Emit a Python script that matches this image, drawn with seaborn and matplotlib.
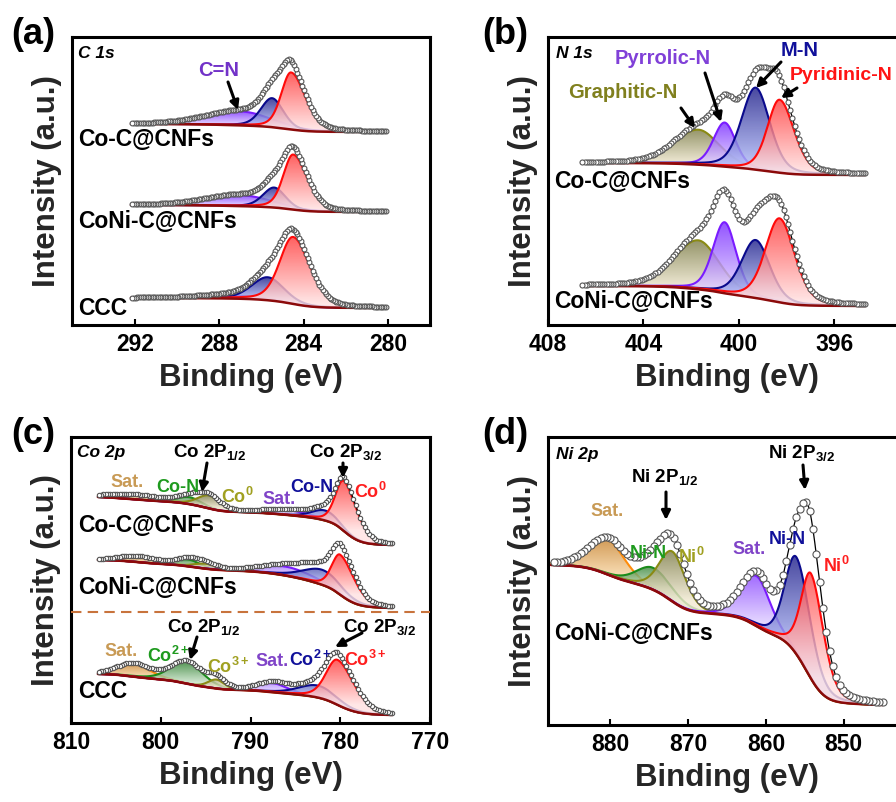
import numpy as np
import matplotlib
matplotlib.use("Agg")
import matplotlib.pyplot as plt
from matplotlib.colors import LinearSegmentedColormap
from matplotlib.patches import Polygon, FancyArrowPatch
import seaborn as sns

# ------------------------------------------------------------------
# Fitted XPS components: (name, centre eV, height, HWHM high-BE side, HWHM low-BE side)
# Intensities are in arbitrary units; each spectrum carries its own vertical offset
# through the background level at its low-binding-energy end.
# ------------------------------------------------------------------
C1S_RANGE = (280.1, 292.2)
C1S_SAMPLES = ["Co-C@CNFs", "CoNi-C@CNFs", "CCC"]
C1S_BASE = [193, 113, 17]
C1S_STEP = [8, 7, 10]
C1S_COC = [("C=N", 287.0, 14, 2.0, 1.7), ("C-N", 285.5, 29, 0.63, 0.63), ("C-C", 284.6, 57, 0.55, 0.8)]
C1S_CONI = [("C=N", 287.0, 11, 2.0, 1.7), ("C-N", 285.4, 20, 0.63, 0.63), ("C-C", 284.5, 55, 0.55, 0.8)]
C1S_CCC = [("C=N", 287.5, 3, 1.8, 1.8), ("C-N", 285.7, 23, 0.9, 0.9), ("C-C", 284.5, 67, 0.75, 0.95)]

N1S_RANGE = (394.7, 406.6)
N1S_SAMPLES = ["Co-C@CNFs", "CoNi-C@CNFs"]
N1S_BASE = [150, 19]
N1S_STEP = [12, 20]
N1S_COC = [("Graphitic-N", 401.7, 35, 1.2, 1.05), ("Pyrrolic-N", 400.6, 44, 0.55, 0.55),
           ("M-N", 399.3, 82, 0.7, 0.7), ("Pyridinic-N", 398.3, 73, 0.6, 0.72)]
N1S_CONI = [("Graphitic-N", 401.7, 49, 1.2, 1.05), ("Pyrrolic-N", 400.6, 71, 0.58, 0.58),
            ("M-N", 399.3, 58, 0.7, 0.7), ("Pyridinic-N", 398.3, 84, 0.7, 0.75)]

CO2P_RANGE = (774.2, 807.0)
CO2P_SAMPLES = ["Co-C@CNFs", "CoNi-C@CNFs", "CCC"]
CO2P_BASE = [178, 115, 8]
CO2P_STEP = [48, 48, 41]
CO2P_COC = [("Sat-1/2", 803.0, 5, 3.5, 3.5), ("CoN-1/2", 796.8, 7, 1.6, 1.6), ("Co0-1/2", 794.6, 13, 1.5, 1.5),
            ("Sat-3/2", 786.0, 5, 3.0, 3.0), ("CoN-3/2", 781.7, 10, 1.7, 1.7), ("Co0-3/2", 779.6, 50, 1.1, 1.7)]
CO2P_CONI = [("Sat-1/2", 802.5, 6, 2.5, 2.5), ("CoN-1/2", 797.0, 7, 1.6, 1.6), ("Co0-1/2", 795.0, 5, 1.5, 1.5),
             ("Sat-3/2", 786.0, 9, 3.5, 3.5), ("CoN-3/2", 782.0, 15, 2.5, 2.5), ("Co0-3/2", 780.0, 40, 1.1, 1.85)]
CO2P_CCC = [("Sat-1/2", 803.0, 13, 2.2, 2.2), ("Co2+-1/2", 797.1, 22, 2.1, 2.1), ("Co3+-1/2", 793.8, 9, 1.1, 1.1),
            ("Sat-3/2", 787.5, 9, 2.0, 2.0), ("Co2+-3/2", 782.5, 12, 2.5, 2.5), ("Co3+-3/2", 780.3, 45, 1.5, 2.2)]

NI2P_RANGE = (845.0, 887.6)
NI2P_SAMPLES = ["CoNi-C@CNFs"]
NI2P_BASE = [20]
NI2P_STEP = [140]
NI2P_CONI = [("Sat-1/2", 880.3, 35, 2.8, 2.6), ("NiN-1/2", 874.5, 22, 2.5, 3.0), ("Ni0-1/2", 872.0, 50, 2.0, 2.0),
             ("Sat-3/2", 861.2, 50, 2.3, 2.1), ("NiN-3/2", 856.1, 97, 1.7, 2.1), ("Ni0-3/2", 854.2, 105, 1.5, 1.9)]

C1S_TICKS = [292, 288, 284, 280]
N1S_TICKS = [408, 404, 400, 396]
CO2P_TICKS = [810, 800, 790, 780, 770]
NI2P_TICKS = [880, 870, 860, 850]

# ------------------------------------------------------------------
# Styling
# ------------------------------------------------------------------
sns.set_theme(style="ticks")
plt.rcParams["font.family"] = ["Liberation Sans", "DejaVu Sans"]
plt.rcParams["font.weight"] = "bold"
plt.rcParams["mathtext.fontset"] = "custom"
plt.rcParams["mathtext.rm"] = "Liberation Sans:bold"
plt.rcParams["mathtext.it"] = "Liberation Sans:bold"
plt.rcParams["mathtext.bf"] = "Liberation Sans:bold"
plt.rcParams["axes.edgecolor"] = "black"

# (line colour, fill colour at peak top, fill colour at peak base)
RED = ("#ff0a0a", "#ff3c3c", "#ffe2e2")
BLUE = ("#0a0a8c", "#20208a", "#b9c3ff")
PURPLE = ("#7a1cff", "#7b2eff", "#e4d6ff")
OLIVE = ("#8a8a14", "#7d7d48", "#f2ead2")
GREEN = ("#1b8b1b", "#2c7d2c", "#cfe7cf")
ORANGE = ("#ff8c0a", "#c88430", "#f6d3a0")
BG_LINE = "#8b0a0a"

COLOURS = {
    "C=N": PURPLE, "C-N": BLUE, "C-C": RED,
    "Graphitic-N": OLIVE, "Pyrrolic-N": PURPLE, "M-N": BLUE, "Pyridinic-N": RED,
    "Sat-1/2": ORANGE, "Sat-3/2": PURPLE,
    "CoN-1/2": GREEN, "Co0-1/2": OLIVE, "CoN-3/2": BLUE, "Co0-3/2": RED,
    "Co2+-1/2": GREEN, "Co3+-1/2": OLIVE, "Co2+-3/2": BLUE, "Co3+-3/2": RED,
    "NiN-1/2": GREEN, "Ni0-1/2": OLIVE, "NiN-3/2": BLUE, "Ni0-3/2": RED,
}

W, H = 896, 802
fig = plt.figure(figsize=(W / 100, H / 100), dpi=100)


def add_axes(left, top, right, bottom):
    return fig.add_axes([left / W, 1 - bottom / H, (right - left) / W, (bottom - top) / H])


def peak(x, c, h, w_hi, w_lo, eta=0.3):
    w = np.where(x >= c, w_hi, w_lo)
    u = (x - c) / w
    return h * ((1 - eta) * np.exp(-np.log(2) * u ** 2) + eta / (1 + u ** 2))


def shirley(x, total, base, step):
    cum = np.concatenate([[0.0], np.cumsum(0.5 * (total[1:] + total[:-1]) * np.diff(x))])
    return base + step * cum / cum[-1]


def gradient_fill(ax, x, lower, upper, top_col, base_col, z, alpha=0.82):
    verts = np.vstack([np.column_stack([x, upper]), np.column_stack([x[::-1], lower[::-1]])])
    poly = Polygon(verts, closed=True, facecolor="none", edgecolor="none")
    ax.add_patch(poly)
    y_top = upper.max()
    i_peak = np.argmax(upper - lower)
    y_base = lower[i_peak]
    y_min = lower.min()
    ys = np.linspace(y_min, y_top, 256)
    t = np.clip((ys - y_base) / max(y_top - y_base, 1e-6), 0, 1).reshape(-1, 1)
    cmap = LinearSegmentedColormap.from_list("grad", [base_col, top_col])
    im = ax.imshow(t, extent=[x.min(), x.max(), y_min, y_top], origin="lower", aspect="auto",
                   cmap=cmap, vmin=0, vmax=1, alpha=alpha, zorder=z, interpolation="bilinear")
    im.set_clip_path(poly)


def draw_spectrum(ax, xr, comps, base, step, mark_every, mark_size, n=900):
    x = np.linspace(xr[0], xr[1], n)
    curves = [peak(x, c, h, a, b) for (_, c, h, a, b) in comps]
    total = np.sum(curves, axis=0)
    bg = shirley(x, total, base, step)
    for i, ((name, *_), y) in enumerate(zip(comps, curves)):
        line_c, top_c, base_c = COLOURS[name]
        z = 2 + i * 0.1
        gradient_fill(ax, x, bg, bg + y, top_c, base_c, z)
        sns.lineplot(x=x, y=bg + y, ax=ax, color=line_c, linewidth=1.5, sort=False,
                     estimator=None, zorder=z + 0.05)
    sns.lineplot(x=x, y=bg, ax=ax, color=BG_LINE, linewidth=1.8, sort=False, estimator=None, zorder=4)
    env = bg + total
    sns.lineplot(x=x, y=env, ax=ax, color="black", linewidth=0.9, sort=False, estimator=None, zorder=5)
    sns.scatterplot(x=x[::mark_every], y=env[::mark_every], ax=ax, s=mark_size, color="white",
                    edgecolor="#555555", linewidth=0.8, zorder=6)


def style_axes(ax, xlim, ylim, ticks, width_px, height_px):
    ax.set_xlim(*xlim)
    ax.set_ylim(*ylim)
    ax.set_xticks(ticks)
    ax.set_xticklabels([str(t) for t in ticks])
    ax.set_yticks([])
    ax.tick_params(axis="x", direction="in", length=4, width=1.5, labelsize=16.5, pad=6,
                   colors="black")
    for sp in ax.spines.values():
        sp.set_linewidth(2.2)
        sp.set_color("black")
        sp.set_visible(True)
    ax.set_xlabel("Binding (eV)", fontsize=22.5, fontweight="bold")
    ax.xaxis.set_label_coords(0.5, -53 / height_px)
    ax.xaxis.label.set_va("center")
    ax.set_ylabel("Intensity (a.u.)", fontsize=22.5, fontweight="bold")
    ax.yaxis.set_label_coords(-25 / width_px, 0.5)
    ax.yaxis.label.set_va("center")
    ax.set_facecolor("white")


def ftext(x, y, s, size, color="black", ha="center", va="center", **kw):
    fig.text(x / W, 1 - y / H, s, fontsize=size, color=color, ha=ha, va=va, fontweight="bold", **kw)


def farrow(x0, y0, x1, y1):
    fig.add_artist(FancyArrowPatch((x0 / W, 1 - y0 / H), (x1 / W, 1 - y1 / H), transform=fig.transFigure,
                                   arrowstyle="-|>", mutation_scale=13, lw=2.2, color="black",
                                   shrinkA=0, shrinkB=0))


# ---------------- (a) C 1s ----------------
ax_a = add_axes(72, 37, 430, 325)
for comps, b, s in zip([C1S_COC, C1S_CONI, C1S_CCC], C1S_BASE, C1S_STEP):
    draw_spectrum(ax_a, C1S_RANGE, comps, b, s, mark_every=6, mark_size=12)
style_axes(ax_a, (295, 278), (0, 288), C1S_TICKS, 358, 288)

# ---------------- (b) N 1s ----------------
ax_b = add_axes(548, 37, 906, 325)
for comps, b, s in zip([N1S_COC, N1S_CONI], N1S_BASE, N1S_STEP):
    draw_spectrum(ax_b, N1S_RANGE, comps, b, s, mark_every=7, mark_size=13)
style_axes(ax_b, (408, 393), (0, 288), N1S_TICKS, 358, 288)

# ---------------- (c) Co 2p ----------------
ax_c = add_axes(71, 437, 430, 723)
for comps, b, s in zip([CO2P_COC, CO2P_CONI, CO2P_CCC], CO2P_BASE, CO2P_STEP):
    draw_spectrum(ax_c, CO2P_RANGE, comps, b, s, mark_every=7, mark_size=10)
ax_c.axhline(111, color="#c8733c", ls=(0, (5, 3)), lw=1.5, zorder=7)
style_axes(ax_c, (810, 770), (0, 286), CO2P_TICKS, 359, 286)

# ---------------- (d) Ni 2p ----------------
ax_d = add_axes(548, 437, 906, 725)
for comps, b, s in zip([NI2P_CONI], NI2P_BASE, NI2P_STEP):
    draw_spectrum(ax_d, NI2P_RANGE, comps, b, s, mark_every=9, mark_size=26)
style_axes(ax_d, (888, 842), (0, 288), NI2P_TICKS, 358, 288)

# ---------------- annotations ----------------
for lbl, (x, y) in zip(["(a)", "(b)", "(c)", "(d)"], [(33, 35), (505, 35), (33, 435), (505, 435)]):
    ftext(x, y, lbl, 26)

ftext(78, 54, "C 1s", 12.5, ha="left", fontstyle="italic")
ftext(219, 70, "C=N", 14.5, color="#7232c8")
farrow(228, 82, 238, 110)
ftext(78, 140, C1S_SAMPLES[0], 16.5, ha="left")
ftext(78, 222, C1S_SAMPLES[1], 16.5, ha="left")
ftext(78, 308, C1S_SAMPLES[2], 16.5, ha="left")

ftext(556, 54, "N 1s", 12.5, ha="left", fontstyle="italic")
ftext(663, 58, "Pyrrolic-N", 14.5, color="#8040d8")
ftext(800, 50, "M-N", 14.5, color="#10109a")
ftext(790, 76, "Pyridinic-N", 14, color="#ff1414", ha="left")
ftext(623, 93, "Graphitic-N", 14.5, color="#80801e")
farrow(681, 108, 695, 128)
farrow(705, 73, 721, 122)
farrow(781, 62, 756, 88)
farrow(797, 88, 781, 98)
ftext(554, 181, N1S_SAMPLES[0], 16.5, ha="left")
ftext(554, 301, N1S_SAMPLES[1], 16.5, ha="left")

ftext(77, 453, "Co 2p", 12.5, ha="left", fontstyle="italic")
ftext(210, 452, r"Co 2P$_{1/2}$", 13.5)
farrow(207, 463, 202, 492)
ftext(346, 452, r"Co 2P$_{3/2}$", 13.5)
farrow(343, 463, 343, 478)
ftext(127, 483, "Sat.", 13, color="#c89a55")
ftext(178, 488, "Co-N", 13, color="#1e9a1e")
ftext(237, 497, r"Co$^{0}$", 13, color="#a0a020")
ftext(279, 500, "Sat.", 13, color="#8044c8")
ftext(312, 488, "Co-N", 13, color="#10109a")
ftext(370, 492, r"Co$^{0}$", 13, color="#ff1e1e")
ftext(78, 526, CO2P_SAMPLES[0], 16.5, ha="left")
ftext(78, 588, CO2P_SAMPLES[1], 16.5, ha="left")
ftext(204, 627, r"Co 2P$_{1/2}$", 13.5)
farrow(197, 637, 190, 660)
ftext(380, 627, r"Co 2P$_{3/2}$", 13.5)
farrow(362, 633, 335, 647)
ftext(121, 652, "Sat.", 13, color="#c89a55")
ftext(168, 656, r"Co$^{2+}$", 13, color="#1e9a1e")
ftext(228, 667, r"Co$^{3+}$", 13, color="#a0a020")
ftext(272, 662, "Sat.", 13, color="#8044c8")
ftext(310, 660, r"Co$^{2+}$", 13, color="#10109a")
ftext(365, 660, r"Co$^{3+}$", 13, color="#ff1e1e")
ftext(78, 691, CO2P_SAMPLES[2], 16.5, ha="left")

ftext(556, 454, "Ni 2p", 12.5, ha="left", fontstyle="italic")
ftext(664, 477, r"Ni 2P$_{1/2}$", 13.5)
farrow(666, 492, 666, 520)
ftext(801, 453, r"Ni 2P$_{3/2}$", 13.5)
farrow(803, 465, 805, 490)
ftext(607, 511, "Sat.", 13, color="#c89a55")
ftext(648, 553, "Ni-N", 13, color="#1e9a1e")
ftext(691, 557, r"Ni$^{0}$", 13, color="#a0a020")
ftext(749, 550, "Sat.", 13, color="#8044c8")
ftext(787, 540, "Ni-N", 13, color="#10109a")
ftext(836, 566, r"Ni$^{0}$", 13, color="#ff1e1e")
ftext(554, 634, NI2P_SAMPLES[0], 16.5, ha="left")

fig.savefig("out.png", dpi=100, facecolor="white")
